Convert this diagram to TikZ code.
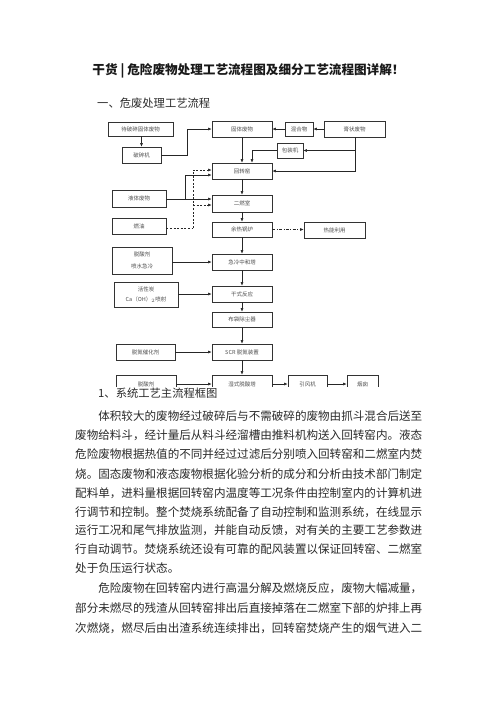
\documentclass[tikz,border=0pt]{standalone}
\usepackage{fontspec}
\setmainfont{Noto Sans CJK SC}
\usetikzlibrary{arrows.meta}
\definecolor{boxline}{HTML}{333333}
\definecolor{labelc}{HTML}{505050}
\definecolor{bodyc}{HTML}{2A2A2A}
\tikzset{
  fbox/.style={draw=boxline, line width=0.6pt, inner sep=0pt, font=\fontsize{5.5}{6.5}\selectfont, text=labelc, align=center},
  conn/.style={draw=black!85, line width=0.6pt, -{Latex[length=3.6pt,width=3pt]}},
  plain/.style={draw=black!85, line width=0.6pt},
  dconn/.style={conn, dash pattern=on 2pt off 1.6pt},
  dplain/.style={plain, dash pattern=on 2pt off 1.6pt},
  ddconn/.style={conn, dash pattern=on 3pt off 1.5pt on 0.8pt off 1.5pt},
  bodyline/.style={anchor=west, inner sep=0pt, font=\fontsize{11.57}{12}\selectfont, text=bodyc},
}
\begin{document}
\begin{tikzpicture}[x=1pt,y=-1pt]
\useasboundingbox[fill=white] (0,0) rectangle (496,702);

% headings
\node[inner sep=0pt, font=\fontsize{12.6}{13}\selectfont\bfseries, text=black!90] (title) at (248.5,71) {干货 | 危险废物处理工艺流程图及细分工艺流程图详解！};
\node[anchor=west, inner sep=0pt, font=\fontsize{11.3}{12}\selectfont, text=bodyc] (sub1) at (97,103) {一、危废处理工艺流程};

% diagram
\begin{scope}
\clip (0,100) rectangle (496,386.5);
\node[fbox, minimum width=65pt, minimum height=14pt] (dp) at (140.5,129) {待破碎固体废物};
\node[fbox, minimum width=39pt, minimum height=16pt] (psj) at (141.5,155) {破碎机};
\node[fbox, minimum width=60pt, minimum height=16pt] (gt) at (242,129) {固体废物};
\node[fbox, minimum width=28pt, minimum height=14pt] (hh) at (299,129) {混合物};
\node[fbox, minimum width=61pt, minimum height=16pt] (gz) at (354.5,129) {膏状废物};
\node[fbox, minimum width=26pt, minimum height=15pt] (bz) at (290,150.5) {包装机};
\node[fbox, minimum width=60pt, minimum height=16pt] (hzy) at (242,171) {回转窑};
\node[fbox, minimum width=54pt, minimum height=17pt] (ye) at (139,198.5) {液体废物};
\node[fbox, minimum width=60pt, minimum height=17pt] (ers) at (242,203.5) {二燃室};
\node[fbox, minimum width=54pt, minimum height=16pt] (ry) at (139,226) {燃油};
\node[fbox, minimum width=60pt, minimum height=15pt] (yr) at (242,229.5) {余热锅炉};
\node[fbox, minimum width=61pt, minimum height=16pt] (rn) at (334.5,230) {热能利用};
\node[fbox, minimum width=60pt, minimum height=27pt, font=\fontsize{5.5}{12}\selectfont] (ts1) at (142,260.5) {脱酸剂\\喷水急冷};
\node[fbox, minimum width=60pt, minimum height=16pt] (jl) at (242,262) {急冷中和塔};
\node[fbox, minimum width=64pt, minimum height=25pt, font=\fontsize{5.5}{10}\selectfont] (hx) at (146,294.5) {活性炭\\Ca（OH）$_{2}$喷射};
\node[fbox, minimum width=60pt, minimum height=16pt] (gs) at (242,294) {干式反应};
\node[fbox, minimum width=60pt, minimum height=15pt] (bd) at (242,319.5) {布袋除尘器};
\node[fbox, minimum width=59pt, minimum height=16pt] (tdc) at (145.5,352) {脱氮催化剂};
\node[fbox, minimum width=60pt, minimum height=16pt] (scr) at (242,352) {SCR 脱氮装置};
\node[fbox, minimum width=60pt, minimum height=18pt] (ts2) at (146,384) {脱酸剂};
\node[fbox, minimum width=60pt, minimum height=18pt] (ss) at (242,384) {湿式脱酸塔};
\node[fbox, minimum width=39pt, minimum height=18pt] (yf) at (307.5,384) {引风机};
\node[fbox, minimum width=31pt, minimum height=18pt] (yc) at (362.5,384) {烟囱};

\coordinate (c1) at (187,155);
\coordinate (c2) at (355,150.5);
\coordinate (c3) at (252,150.5);
\coordinate (c4) at (185,199);
\coordinate (c5) at (193,228);
\coordinate (c6) at (193,205);

\draw[conn] (dp.south -| psj.north) -- (psj.north);
\draw[conn] (psj.east) -- (c1) |- (gt.west);
\draw[conn] (hh.west) -- (gt.east);
\draw[conn] (gz.west) -- (hh.east);
\draw[conn] (gt.south) -- (hzy.north);
\draw[conn] (c2 |- gz.south) -- (c2 |- hzy.east) -- (hzy.east);
\draw[conn] (c2) -- (bz.east);
\draw[conn] (bz.west) -- (c3) -- (c3 |- hzy.north);
\draw[conn] (ye.east |- c4) -- (c4 -| ers.west);
\draw[conn] (c4) |- ([yshift=-4pt]hzy.west);
\draw[dplain] (ry.east |- c5) -- (c5);
\draw[dconn] (c5) |- ([yshift=1pt]hzy.west);
\draw[dconn] (c6) -- (c6 -| ers.west);
\draw[conn] (hzy.south) -- (ers.north);
\draw[conn] (ers.south) -- (yr.north);
\draw[ddconn] (yr.east) -- (rn.west |- yr.east);
\draw[conn] (yr.south) -- (jl.north);
\draw[conn] (ts1.east |- jl.west) -- (jl.west);
\draw[conn] (jl.south) -- (gs.north);
\draw[conn] (hx.east |- gs.west) -- (gs.west);
\draw[conn] (gs.south) -- (bd.north);
\draw[conn] (bd.south) -- (scr.north);
\draw[conn] (tdc.east) -- (scr.west);
\draw[conn] (scr.south) -- (ss.north);
\draw[conn] (ts2.east) -- (ss.west);
\draw[conn] (ss.east) -- (yf.west);
\draw[conn] (yf.east) -- (yc.west);
\end{scope}

\node[anchor=west, inner sep=0pt, font=\fontsize{11.3}{12}\selectfont, text=bodyc] (sub2) at (98,393) {1、系统工艺主流程框图};

% body text
\node[bodyline] (l1) at (75,416) {\hspace*{2em}体积较大的废物经过破碎后与不需破碎的废物由抓斗混合后送至};
\node[bodyline] (l2) at (75,435) {废物给料斗，经计量后从料斗经溜槽由推料机构送入回转窑内。液态};
\node[bodyline] (l3) at (75,454) {危险废物根据热值的不同并经过过滤后分别喷入回转窑和二燃室内焚};
\node[bodyline] (l4) at (75,474) {烧。固态废物和液态废物根据化验分析的成分和分析由技术部门制定};
\node[bodyline] (l5) at (75,493) {配料单，进料量根据回转窑内温度等工况条件由控制室内的计算机进};
\node[bodyline] (l6) at (75,512) {行调节和控制。整个焚烧系统配备了自动控制和监测系统，在线显示};
\node[bodyline] (l7) at (75,530) {运行工况和尾气排放监测，并能自动反馈，对有关的主要工艺参数进};
\node[bodyline] (l8) at (75,549) {行自动调节。焚烧系统还设有可靠的配风装置以保证回转窑、二燃室};
\node[bodyline] (l9) at (75,568) {处于负压运行状态。};
\node[bodyline] (l10) at (75,588) {\hspace*{2em}危险废物在回转窑内进行高温分解及燃烧反应，废物大幅减量，};
\node[bodyline] (l11) at (75,608) {部分未燃尽的残渣从回转窑排出后直接掉落在二燃室下部的炉排上再};
\node[bodyline] (l12) at (75,628) {次燃烧，燃尽后由出渣系统连续排出，回转窑焚烧产生的烟气进入二};
\end{tikzpicture}
\end{document}
